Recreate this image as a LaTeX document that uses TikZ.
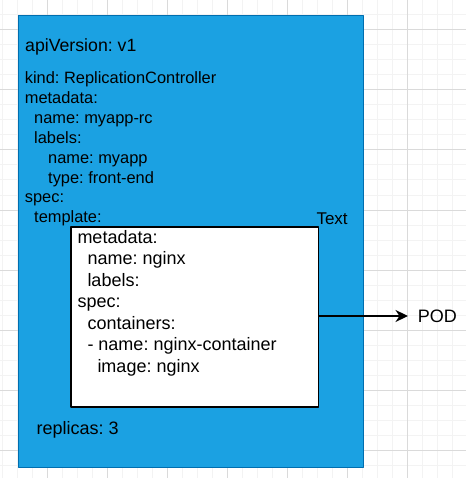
\documentclass[tikz,border=0pt]{standalone}
\usepackage{fontspec}
\setmainfont{Liberation Sans}
\usetikzlibrary{arrows.meta}
\definecolor{rcblue}{HTML}{1BA1E2}
\definecolor{rcline}{HTML}{006EAF}
\definecolor{gridminor}{HTML}{F3F3F3}
\definecolor{gridmajor}{HTML}{DADADA}
\frenchspacing

\begin{document}
\begin{tikzpicture}[x=1pt,y=-1pt,line join=round,>={Stealth[length=12.5pt,width=12pt,inset=4pt]},
    txt/.style={inner sep=0pt,anchor=base west},
    outerfont/.style={font=\fontsize{16.4}{19}\selectfont},
    innerfont/.style={font=\fontsize{18}{21}\selectfont}]
        \useasboundingbox (0,0) rectangle (466,478);
        % background grid
        \foreach \gx in {2.7,17.7,...,466} \draw[gridminor,line width=1pt] (\gx,0) -- (\gx,478);
        \foreach \gy in {15,30,...,478} \draw[gridminor,line width=1pt] (0,\gy) -- (466,\gy);
        \foreach \gx in {47.7,107.7,...,466} \draw[gridmajor,line width=1pt] (\gx,0) -- (\gx,478);
        \foreach \gy in {30,90,...,478} \draw[gridmajor,line width=1pt] (0,\gy) -- (466,\gy);
        % replication controller
        \node[draw=rcline,fill=rcblue,line width=1pt,inner sep=0pt,outer sep=0pt,
          minimum width=345.7pt,minimum height=451pt,anchor=north west] (rc) at (18,16) {};
        \node[txt,font=\fontsize{17.7}{20}\selectfont] (api) at (25,52) {apiVersion: v1};
        \foreach \dx/\txt [count=\i from 0] in {0/kind: ReplicationController,0/metadata:,
            9.3/name: myapp-rc,9.3/labels:,23.3/name: myapp,23.3/type: front-end,0/spec:,9.3/template:}
          \node[txt,outerfont] (rc\i) at (24.7+\dx,84+19.8*\i) {\txt};
        \node[txt,innerfont] (replicas) at (36.5,434) {replicas: 3};
        \node[txt,font=\fontsize{17}{20}\selectfont] (label) at (316.3,224) {Text};
        % pod template
        \node[draw=black,fill=white,line width=1.5pt,inner sep=0pt,outer sep=0pt,
          minimum width=247.7pt,minimum height=180pt,anchor=north west] (tpl) at (71,227) {};
        \foreach \dx/\txt [count=\i from 0] in {0/metadata:,10/name: nginx,10/labels:,0/spec:,
            10/containers:,10/- name: nginx-container,20/image: nginx}
          \node[txt,innerfont] (tpl\i) at (77.3+\dx,243.3+21.5*\i) {\txt};
        \node[inner xsep=9.6pt,inner ysep=0pt,anchor=west,innerfont] (pod) at ([xshift=89.3pt,yshift=1pt]tpl.east) {POD};
        \draw[->,line width=1.5pt] (tpl.east |- pod.west) -- (pod.west);
\end{tikzpicture}
\end{document}
